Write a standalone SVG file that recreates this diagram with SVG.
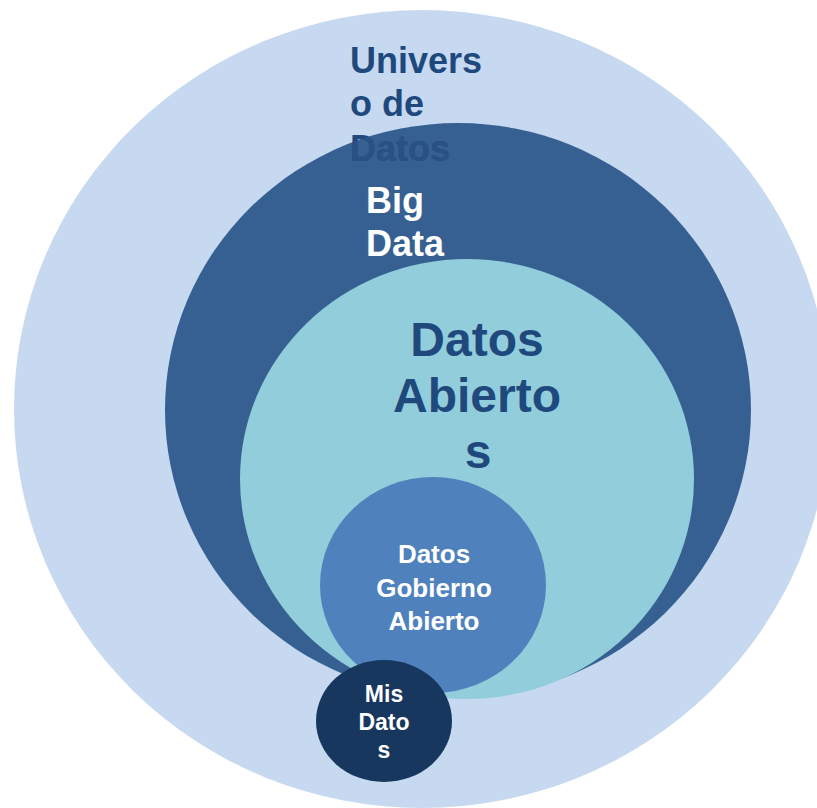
<svg xmlns="http://www.w3.org/2000/svg" width="817" height="808" viewBox="0 0 817 808">
  <style>
    text { font-family: "Liberation Sans", Arial, sans-serif; font-weight: bold; }
    .navy { fill: #1f497d; }
    .white { fill: #ffffff; }
  </style>
  <defs>
    <clipPath id="bigClip">
      <ellipse cx="458" cy="410" rx="293" ry="287"/>
    </clipPath>
  </defs>
  <rect width="817" height="808" fill="#ffffff"/>
  <g id="universo">
    <ellipse cx="422" cy="409" rx="408" ry="399" fill="#c6d9f1"/>
  </g>
  <g id="bigdata">
    <ellipse cx="458" cy="410" rx="293" ry="287" fill="#366092"/>
  </g>
  <g id="abiertos">
    <ellipse cx="467" cy="479" rx="227" ry="220" fill="#92cddc"/>
  </g>
  <g id="gobierno">
    <ellipse cx="433" cy="585" rx="113" ry="108" fill="#4f81bd"/>
  </g>
  <g id="misdatos">
    <ellipse cx="384" cy="721" rx="68" ry="61" fill="#17375e"/>
  </g>
  <g id="connectors"/>
  <g id="labels">
    <g id="universo-label" font-size="36">
      <text class="navy" x="350" y="73">Univers</text>
      <text class="navy" x="350" y="116">o de</text>
      <text class="navy" x="350" y="161">Datos</text>
      <text x="350" y="161" fill="#2a5183" clip-path="url(#bigClip)">Datos</text>
    </g>
    <g id="bigdata-label" font-size="36">
      <text class="white" x="366" y="213">Big</text>
      <text class="white" x="366" y="256">Data</text>
    </g>
    <g id="abiertos-label" font-size="48" text-anchor="middle">
      <text class="navy" x="477" y="356">Datos</text>
      <text class="navy" x="477" y="412">Abierto</text>
      <text class="navy" x="478" y="468">s</text>
    </g>
    <g id="gobierno-label" font-size="26" text-anchor="middle">
      <text class="white" x="434" y="563">Datos</text>
      <text class="white" x="434" y="597">Gobierno</text>
      <text class="white" x="434" y="630">Abierto</text>
    </g>
    <g id="misdatos-label" font-size="23" text-anchor="middle">
      <text class="white" x="384" y="702">Mis</text>
      <text class="white" x="384" y="730">Dato</text>
      <text class="white" x="384" y="758">s</text>
    </g>
  </g>
</svg>
